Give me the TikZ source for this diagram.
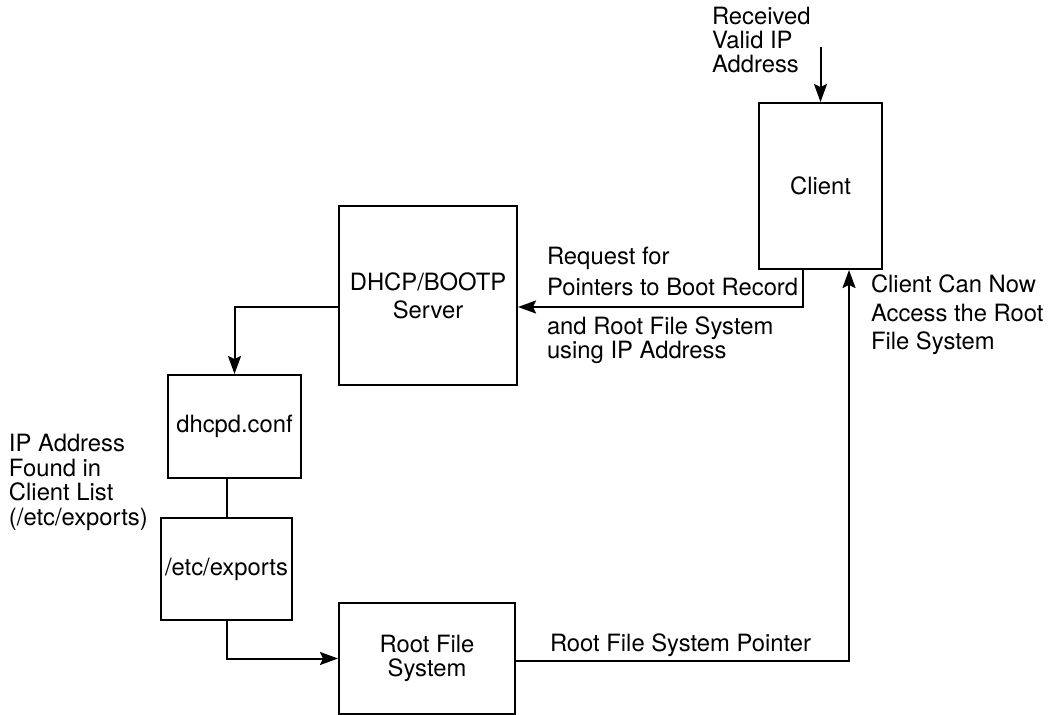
\documentclass[tikz,border=0pt]{standalone}
\usepackage{fontspec}
\setmainfont{TeX Gyre Heros}
\usetikzlibrary{arrows.meta}

\tikzstyle{every path} = [line width=1pt,black]
\tikzstyle{box} = [draw, line width=1pt, inner sep=0pt, align=center, font=\fontsize{11.9}{12}\selectfont]
\tikzstyle{note} = [inner sep=0pt, align=left, anchor=west]
\tikzstyle{arr} = [-{Stealth[length=9pt,width=6.5pt,inset=1.5pt]}]

\begin{document}
\begin{tikzpicture}[x=0.5pt,y=-0.5pt]
    \useasboundingbox (0,0) rectangle (1048,715);

    % Boxes
    \node[box, minimum width=61.5pt, minimum height=83pt] (client) at (820.5,186) {Client};
    \node[box, minimum width=89pt, minimum height=89.5pt, font=\fontsize{11.9}{14}\selectfont] (server) at (428,295.5) {DHCP/BOOTP\\Server};
    \node[box, minimum width=66.5pt, minimum height=51.5pt] (dhcpd) at (234.5,426.5) {dhcpd.conf};
    \node[box, minimum width=65.5pt, minimum height=51pt] (exports) at (226.5,569) {/etc/exports};
    \node[box, minimum width=88pt, minimum height=55.5pt] (rootfs) at (427,658.5) {Root File\\System};

    % Corner points
    \coordinate (recv) at (820.5,47);
    \coordinate (reqc) at (803,307);
    \coordinate (acc) at (849,661);

    % Connectors
    \draw[arr] (recv) -- (client.north);
    \draw[arr] (client.south -| reqc) |- (server.east |- reqc);
    \draw[arr] (server.west |- reqc) -| (dhcpd.north);
    \draw (dhcpd.south -| exports.north) -- (exports.north);
    \draw[arr] (exports.south) |- (rootfs.west);
    \draw[arr] (rootfs.east |- acc) -| (client.south -| acc);

    % Labels
    \node[note, font=\fontsize{11.9}{12}\selectfont] (recvtxt) at (711,40.5) {Received\\Valid IP\\Address};
    \node[note, font=\fontsize{11.9}{15.5}\selectfont] (reqtxt) at (546,271) {Request for\\Pointers to Boot Record};
    \node[note, font=\fontsize{11.9}{11}\selectfont] (andtxt) at (546,340) {and Root File System\\using IP Address};
    \node[note, font=\fontsize{11.9}{14.25}\selectfont] (nowtxt) at (870,315) {Client Can Now\\Access the Root\\File System};
    \node[note, font=\fontsize{11.9}{12.25}\selectfont] (foundtxt) at (8,482.5) {IP Address\\Found in\\Client List\\(/etc/exports)};
    \node[inner sep=0pt, anchor=base west, font=\fontsize{11.9}{12}\selectfont] (ptrtxt) at (549,651) {Root File System Pointer};
\end{tikzpicture}
\end{document}
